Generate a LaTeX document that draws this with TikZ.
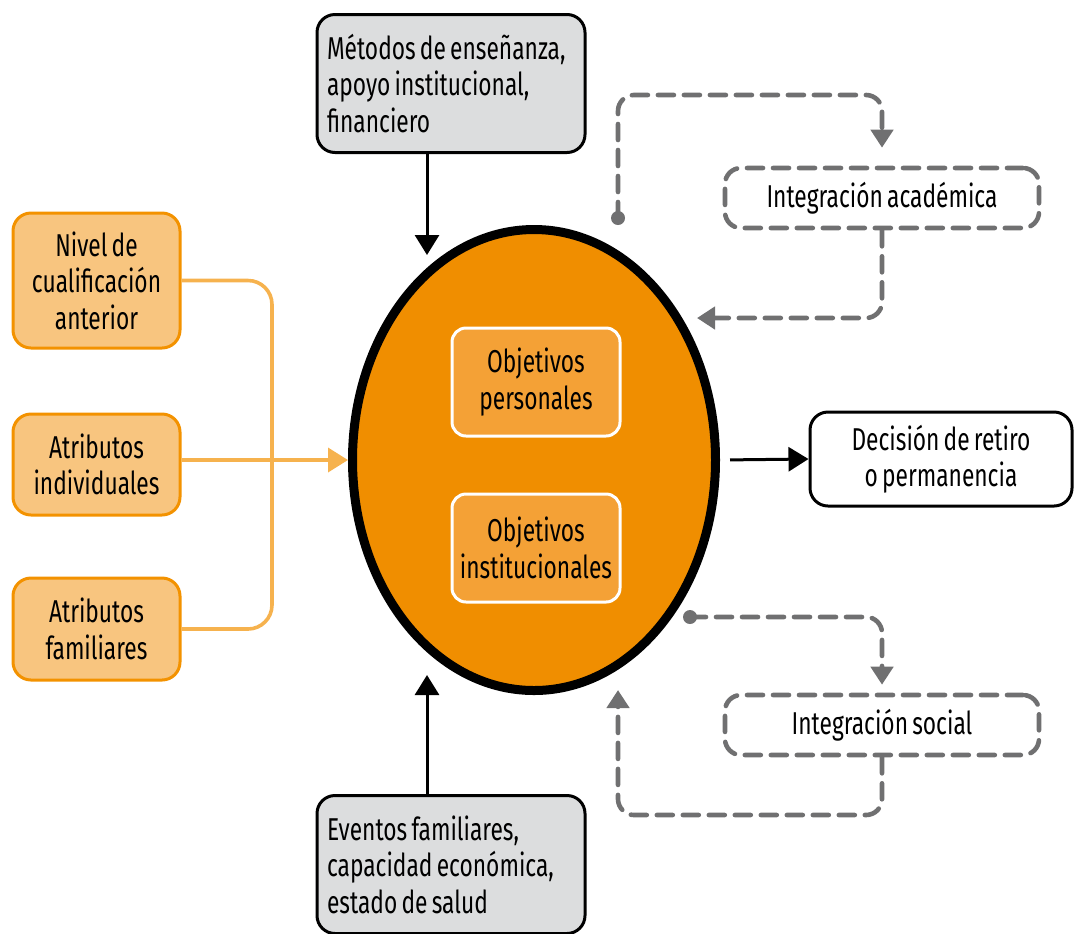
\documentclass[tikz,border=0pt]{standalone}
\usepackage{fontspec}
\setmainfont{Fira Sans}[FakeStretch=0.72,WordSpace=0.7]
\usetikzlibrary{arrows.meta,shapes.geometric}
\definecolor{naranja}{HTML}{F08E00}
\definecolor{naranjamed}{HTML}{F4A136}
\definecolor{naranjaclaro}{HTML}{F8C57F}
\definecolor{naranjaborde}{HTML}{F39200}
\definecolor{naranjalinea}{HTML}{F6B24E}
\definecolor{grisfondo}{HTML}{DCDDDE}
\definecolor{grislinea}{HTML}{707071}

\begin{document}
\begin{tikzpicture}[x=0.5pt,y=-0.5pt,font=\fontsize{15.8}{18.2}\selectfont,
    tip/.style={-{Triangle[width=12pt,length=10pt]}},
    factor/.style={draw=naranjaborde,fill=naranjaclaro,line width=1.5pt,rounded corners=9pt,
      align=center,minimum width=83.5pt,inner sep=0pt},
    entorno/.style={draw=black,fill=grisfondo,line width=1.5pt,rounded corners=9pt,
      align=flush left,text width=124pt,inner xsep=5pt,minimum height=69pt},
    objetivo/.style={draw=white,fill=naranjamed,line width=1.5pt,rounded corners=7pt,
      align=center,minimum width=84pt,minimum height=54pt,inner sep=0pt},
    integra/.style={draw=grislinea,line width=2.3pt,dash pattern=on 8pt off 5pt,line cap=round,
      rounded corners=8pt,minimum width=157pt,minimum height=30pt},
    dashloop/.style={draw=grislinea,line width=2.3pt,dash pattern=on 8pt off 5pt,line cap=round,
      rounded corners=8pt,-{Triangle[width=11pt,length=9pt]}},
    feed/.style={draw=naranjalinea,line width=1.8pt}]
  \useasboundingbox (0,0) rectangle (1074,933);

  % elipse central
  \node[ellipse,draw=black,fill=naranja,line width=4.5pt,minimum width=181.5pt,
    minimum height=230.5pt,inner sep=0pt] (core) at (534,460) {};
  \node[objetivo] (pers) at (536,382) {Objetivos\\personales};
  \node[objetivo] (inst) at (536,548) {Objetivos\\institucionales};

  % factores previos
  \node[factor,minimum height=67.5pt] (nivel) at (96.5,280.5) {Nivel de\\cualificación\\anterior};
  \node[factor,minimum height=50.5pt] (indiv) at (96.5,464.5) {Atributos\\individuales};
  \node[factor,minimum height=51pt] (fam) at (96.5,629) {Atributos\\familiares};

  % entorno
  \node[entorno] (metodos) at (451,83.5) {Métodos de enseñanza,\\apoyo institucional,\\financiero};
  \node[entorno] (eventos) at (451,864.5) {Eventos familiares,\\capacidad económica,\\estado de salud};

  % salida
  \node[draw,fill=white,line width=1.5pt,rounded corners=9pt,align=center,
    minimum width=131pt,minimum height=47pt] (decision) at (941,459) {Decisión de retiro\\o permanencia};

  % integracion
  \node[integra] (acad) at (882,198) {Integración académica};
  \node[integra] (soc) at (882,725) {Integración social};

  \coordinate (bus) at (272,460);
  \coordinate (topin) at (427,255);
  \coordinate (botin) at (427,675);
  \coordinate (dotA) at (618,218);
  \coordinate (acadtop) at (882,95);
  \coordinate (acadback) at (697,318);
  \coordinate (dotB) at (690,617);
  \coordinate (sbcorner) at (618,815);
  \coordinate (socback) at (618,690);

  % conexiones
  \draw[feed,rounded corners=12pt] (nivel.east) -| (bus) |- (fam.east);
  \draw[feed,tip,draw=naranjalinea,fill=naranjalinea] (indiv.east |- bus) -- (core.west);
  \draw[line width=1.5pt,tip] (metodos.south -| topin) -- (topin);
  \draw[line width=1.5pt,tip] (eventos.north -| botin) -- (botin);
  \draw[line width=1.5pt,tip,shorten <=5pt] (core.east) -- (decision.west);

  \fill[grislinea] (dotA) circle (3.5pt) (dotB) circle (3.5pt);
  \draw[dashloop] (dotA) |- (acadtop) -- ([yshift=9pt]acad.north);
  \draw[dashloop] (acad.south) |- (acadback);
  \draw[dashloop] (dotB) -| ([yshift=4pt]soc.north);
  \draw[dashloop] (soc.south) |- (sbcorner) -- (socback);
\end{tikzpicture}
\end{document}
